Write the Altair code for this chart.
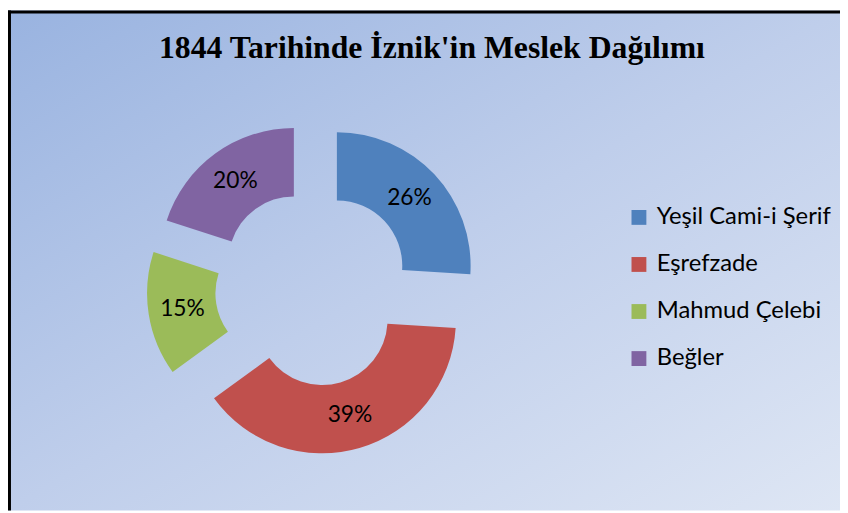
import altair as alt
import pandas as pd

# ---- data ----
categories = ["Yeşil Cami-i Şerif", "Eşrefzade", "Mahmud Çelebi", "Beğler"]
percentages = [26, 39, 15, 20]
colors = ["#4F81BD", "#C0504D", "#9BBB59", "#8064A2"]
title_text = "1844 Tarihinde İznik'in Meslek Dağılımı"

# ---- layout ----
W, H = 840, 505
CX, CY = 308, 280.5
EXPLODE = 33
R_OUT, R_IN = 135, 66
R_LABEL = (R_OUT + R_IN) / 2

df = pd.DataFrame({"category": categories, "value": percentages,
                   "order": list(range(len(categories)))})

base = (
    alt.Chart(df)
    .transform_window(cum="sum(value)", sort=[alt.SortField("order")], frame=[None, 0])
    .transform_joinaggregate(total="sum(value)")
    .transform_calculate(
        start="2*PI*(datum.cum - datum.value)/datum.total",
        end="2*PI*datum.cum/datum.total",
    )
    .transform_calculate(mid="(datum.start + datum.end)/2")
    .transform_calculate(
        cx=f"{CX} + {EXPLODE}*sin(datum.mid)",
        cy=f"{CY} - {EXPLODE}*cos(datum.mid)",
        label="datum.value + '%'",
    )
)

arcs = base.mark_arc(radius=R_OUT, radius2=R_IN, strokeWidth=0).encode(
    x=alt.X("cx:Q", scale=None, axis=None),
    y=alt.Y("cy:Q", scale=None, axis=None),
    theta=alt.Theta("start:Q", scale=None),
    theta2="end:Q",
    color=alt.Color(
        "category:N",
        scale=alt.Scale(domain=categories, range=colors),
        legend=alt.Legend(
            orient="none", legendX=625, legendY=197, title=None,
            symbolType="square", symbolSize=225, symbolStrokeWidth=0,
            symbolOpacity=1, labelFont="Lato", labelFontSize=24,
            labelColor="black", rowPadding=23.5, labelOffset=6,
            padding=0, labelLimit=400,
        ),
    ),
)

labels = base.mark_text(radius=R_LABEL, font="Lato", fontSize=23,
                        color="black", align="center", baseline="middle").encode(
    x=alt.X("cx:Q", scale=None, axis=None),
    y=alt.Y("cy:Q", scale=None, axis=None),
    theta=alt.Theta("mid:Q", scale=None),
    text="label:N",
)

one = pd.DataFrame({"t": [title_text]})

bg = alt.Chart(one).mark_rect(
    color=alt.Gradient(
        gradient="linear",
        stops=[alt.GradientStop(color="#99B3E0", offset=0),
               alt.GradientStop(color="#BFCEEB", offset=0.5),
               alt.GradientStop(color="#DEE6F4", offset=1)],
        x1=0, y1=0, x2=1, y2=1,
    )
).encode(x=alt.value(0), x2=alt.value(W), y=alt.value(0), y2=alt.value(H))

left_border = alt.Chart(one).mark_rule(color="black", strokeWidth=3).encode(
    x=alt.value(1.5), y=alt.value(0), y2=alt.value(H))
top_border = alt.Chart(one).mark_rule(color="black", strokeWidth=3).encode(
    y=alt.value(1.5), x=alt.value(0), x2=alt.value(W))

title = alt.Chart(one).mark_text(
    font="Liberation Serif", fontWeight="bold", fontSize=32, color="black",
    align="center", baseline="alphabetic",
).encode(x=alt.value(428), y=alt.value(48), text="t:N")

chart = alt.layer(bg, left_border, top_border, title, arcs, labels).properties(
    width=W, height=H, padding=0,
    autosize=alt.AutoSizeParams(type="none"),
).configure_view(stroke=None)

chart.save("out.html", embed_options={"renderer": "svg", "actions": False})
